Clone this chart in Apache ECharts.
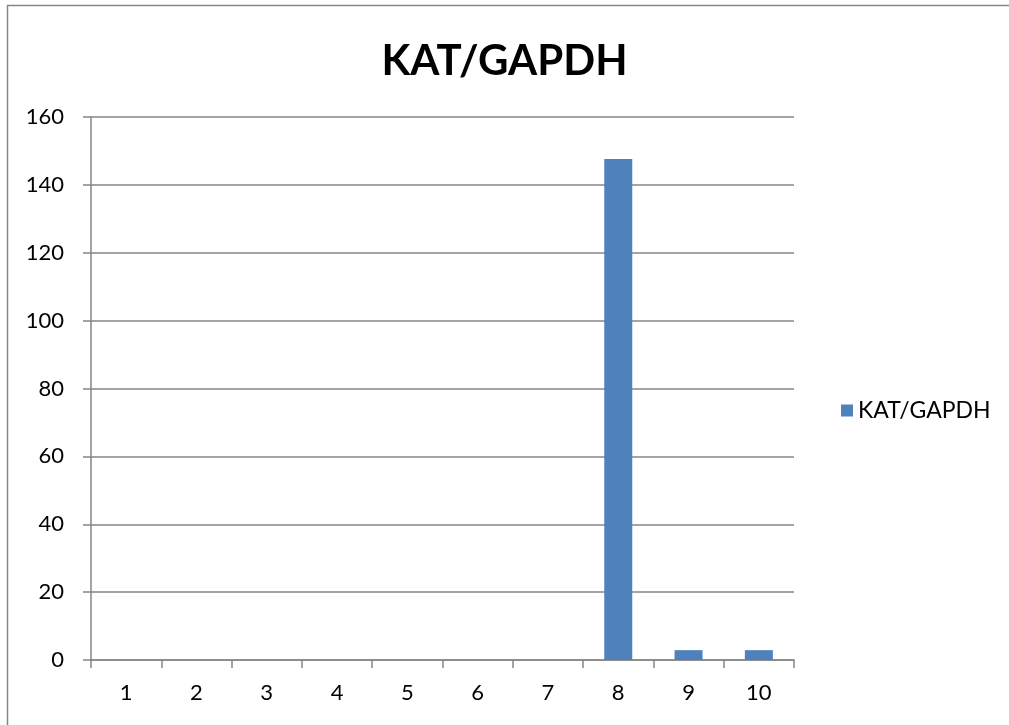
<!DOCTYPE html>
<html>
<head>
<meta charset="utf-8">
<script src="https://cdn.jsdelivr.net/npm/echarts@6/dist/echarts.min.js"></script>
<style>
  html, body { margin: 0; padding: 0; background: #fff; }
  #chart { width: 1009px; height: 725px; }
</style>
</head>
<body>
<div id="chart"></div>
<script>
let categories = ['1', '2', '3', '4', '5', '6', '7', '8', '9', '10']
let katValues = [0, 0, 0, 0, 0, 0, 0, 147.6, 2.9, 2.9]
let yTicks = [0, 20, 40, 60, 80, 100, 120, 140, 160]

let font = 'Lato, "Liberation Sans", sans-serif'
let gray = '#868686'

let option = {
  backgroundColor: '#fff',
  animation: false,
  // chart frame
  graphic: [{
    type: 'rect',
    shape: { x: 7.5, y: 5.5, width: 1010, height: 730 },
    style: { fill: 'none', stroke: gray, lineWidth: 1.5 },
    silent: true
  }],
  title: {
    text: 'KAT/GAPDH',
    left: 'center',
    top: 35,
    textStyle: { fontFamily: font, fontSize: 42, fontWeight: 'bold', color: '#000' }
  },
  legend: {
    data: ['KAT/GAPDH'],
    orient: 'vertical',
    left: 836,
    top: 394,
    itemWidth: 12,
    itemHeight: 12,
    itemGap: 8,
    icon: 'rect',
    textStyle: { fontFamily: font, fontSize: 23, color: '#000' }
  },
  grid: { left: 91, right: 215, top: 117, bottom: 65 },
  xAxis: {
    type: 'category',
    data: categories,
    axisLine: { lineStyle: { color: gray, width: 1.5 } },
    axisTick: { show: true, length: 8, lineStyle: { color: gray, width: 1.5 } },
    axisLabel: { fontFamily: font, fontSize: 22, color: '#000', margin: 22 }
  },
  yAxis: {
    type: 'value',
    min: yTicks[0],
    max: yTicks[yTicks.length - 1],
    interval: 20,
    axisLine: { show: true, lineStyle: { color: gray, width: 1.5 } },
    axisTick: { show: true, length: 8, lineStyle: { color: gray, width: 1.5 } },
    splitLine: { lineStyle: { color: gray, width: 1.5 } },
    axisLabel: { fontFamily: font, fontSize: 22, color: '#000', margin: 27 }
  },
  series: [{
    name: 'KAT/GAPDH',
    type: 'bar',
    data: katValues,
    barWidth: 28,
    itemStyle: { color: '#4f81bd' }
  }]
}

let myChart = echarts.init(document.getElementById('chart'), null, { renderer: 'canvas' })
myChart.setOption(option)
</script>
</body>
</html>
